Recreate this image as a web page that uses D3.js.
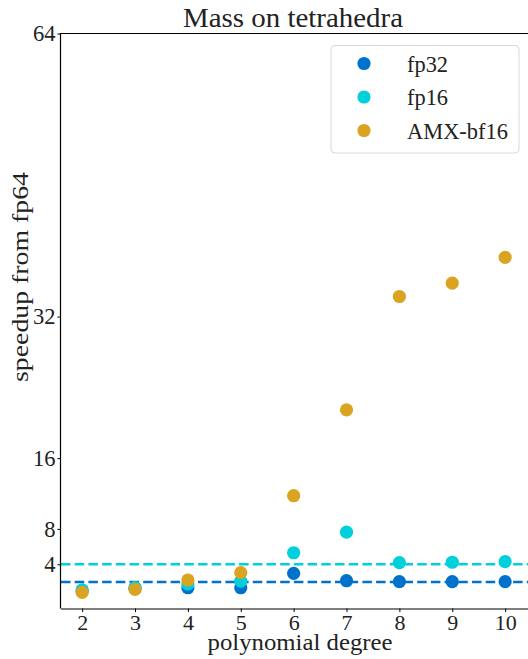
<!DOCTYPE html>
<html>
<head>
<meta charset="utf-8">
<script src="https://cdn.jsdelivr.net/npm/d3@7"></script>
<style>
  body { margin: 0; background: #fff; }
  svg { display: block; font-family: "Liberation Serif", serif; }
</style>
</head>
<body>
<div id="chart"></div>
<script>
"use strict";
const degrees = [2, 3, 4, 5, 6, 7, 8, 9, 10];
const fp32 = [1.0, 1.25, 1.35, 1.35, 2.98, 2.14, 2.03, 2.03, 2.03];
const fp16 = [1.1, 1.37, 1.77, 2.1, 5.3, 7.63, 4.18, 4.23, 4.3];
const amx = [0.83, 1.17, 2.22, 3.05, 11.75, 21.46, 34.27, 35.78, 38.7];
const refLines = [{value: 2, key: "fp32"}, {value: 4, key: "fp16"}];
const yTicks = [4, 8, 16, 32, 64];
const seriesNames = ["fp32", "fp16", "AMX-bf16"];
// widths of the legend labels as they look in the original (serif LaTeX font)
const legendWidths = [41, 41, 101];

const width = 528, height = 659;
const marginTop = 33.5, marginLeft = 61, marginBottom = 50.5;
const colors = {"fp32": "#0072cc", "fp16": "#00d0dc", "AMX-bf16": "#daa321"};

const x = d3.scaleLinear().domain([1.6, 10.44]).range([marginLeft, 528.4]);
const y = d3.scaleLinear().domain([-1, 64]).range([height - marginBottom, marginTop]);

const svg = d3.select("#chart").append("svg")
    .attr("width", width)
    .attr("height", height);

// reference dashed lines
svg.append("g")
  .selectAll("line")
  .data(refLines)
  .join("line")
    .attr("x1", marginLeft)
    .attr("x2", width)
    .attr("y1", d => y(d.value))
    .attr("y2", d => y(d.value))
    .attr("stroke", d => colors[d.key])
    .attr("stroke-width", 2.6)
    .attr("stroke-dasharray", "9.5,4.2");

// points, drawn in series order
const series = [
    {name: "fp32", values: fp32},
    {name: "fp16", values: fp16},
    {name: "AMX-bf16", values: amx}
];
series.forEach(s => {
    svg.append("g")
      .selectAll("circle")
      .data(degrees.map((d, i) => [d, s.values[i]]))
      .join("circle")
        .attr("cx", d => x(d[0]))
        .attr("cy", d => y(d[1]))
        .attr("r", 6.6)
        .attr("fill", colors[s.name]);
});

// axes
svg.append("g")
    .attr("transform", `translate(0,${height - marginBottom})`)
    .call(d3.axisBottom(x).tickValues(degrees).tickSize(3.5).tickPadding(2).tickFormat(d3.format("d")))
    .call(g => g.select(".domain").attr("stroke", "#000").attr("stroke-width", 1.2).attr("d", `M${marginLeft},0.5H${width + 5}`))
    .call(g => g.selectAll("text").attr("font-size", 22).attr("font-family", "Liberation Serif").attr("fill", "#222"));

svg.append("g")
    .attr("transform", `translate(${marginLeft},0)`)
    .call(d3.axisLeft(y).tickValues(yTicks).tickSize(3.5).tickPadding(2))
    .call(g => g.select(".domain").attr("stroke", "#000").attr("stroke-width", 1.2).attr("d", `M-0.5,${marginTop}V${height - marginBottom}`))
    .call(g => g.selectAll("text").attr("font-size", 22.5).attr("font-family", "Liberation Serif").attr("fill", "#222"));

// top spine
svg.append("line")
    .attr("x1", marginLeft - 1).attr("x2", width)
    .attr("y1", marginTop).attr("y2", marginTop)
    .attr("stroke", "#000").attr("stroke-width", 1.2);

// title and labels
svg.append("text")
    .attr("x", 293).attr("y", 27)
    .attr("text-anchor", "middle")
    .attr("font-size", 28)
    .attr("textLength", 220)
    .attr("lengthAdjust", "spacingAndGlyphs")
    .attr("fill", "#222")
    .text("Mass on tetrahedra");

svg.append("text")
    .attr("x", 300).attr("y", 650)
    .attr("text-anchor", "middle")
    .attr("font-size", 22.5)
    .attr("textLength", 185)
    .attr("lengthAdjust", "spacingAndGlyphs")
    .attr("fill", "#222")
    .text("polynomial degree");

svg.append("text")
    .attr("transform", "translate(28,277) rotate(-90)")
    .attr("text-anchor", "middle")
    .attr("font-size", 23)
    .attr("textLength", 210)
    .attr("lengthAdjust", "spacingAndGlyphs")
    .attr("fill", "#222")
    .text("speedup from fp64");

// legend
const legend = svg.append("g");
legend.append("rect")
    .attr("x", 331).attr("y", 45.5)
    .attr("width", 188).attr("height", 107.5)
    .attr("rx", 4)
    .attr("fill", "#fff")
    .attr("fill-opacity", 0.8)
    .attr("stroke", "#d8d8d8");

const item = legend.selectAll(".item")
  .data(seriesNames)
  .join("g")
    .attr("class", "item")
    .attr("transform", (d, i) => `translate(364,${63.5 + i * 33.5})`);

item.append("circle")
    .attr("r", 6.6)
    .attr("fill", d => colors[d]);

item.append("text")
    .attr("x", 43)
    .attr("dy", "0.35em")
    .attr("font-size", 23)
    .attr("textLength", (d, i) => legendWidths[i])
    .attr("lengthAdjust", "spacingAndGlyphs")
    .attr("fill", "#222")
    .text(d => d);
</script>
</body>
</html>
